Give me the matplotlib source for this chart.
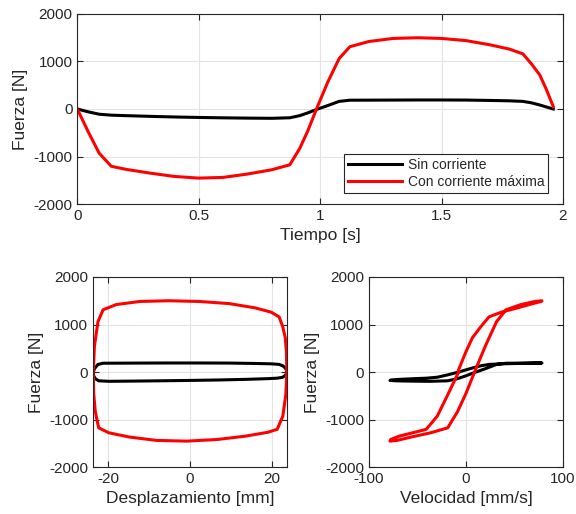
import matplotlib
matplotlib.use('Agg')
import matplotlib.pyplot as plt

plt.rcParams['font.family'] = ['Liberation Sans', 'DejaVu Sans']
plt.rcParams['axes.unicode_minus'] = False

# tiempo de muestreo [s]
tiempo = [0, 0.045, 0.09, 0.14, 0.2, 0.3, 0.4, 0.5, 0.6, 0.7, 0.8, 0.875, 0.916,
          0.95, 0.985, 1.03, 1.078, 1.122, 1.2, 1.3, 1.4, 1.5, 1.6, 1.7, 1.78,
          1.835, 1.87, 1.904, 1.93, 1.96]

# desplazamiento [mm]
desplazamiento = [23.70, 23.45, 22.72, 21.35, 18.99, 13.57, 6.74, -0.76, -8.18,
                  -14.78, -19.86, -22.37, -23.20, -23.59, -23.70, -23.40, -22.54,
                  -21.29, -18.05, -12.28, -5.27, 2.28, 9.59, 15.94, 19.86, 21.82,
                  22.72, 23.32, 23.59, 23.70]

# velocidad [mm/s]
velocidad = [-7.58, -18.82, -29.64, -40.95, -53.11, -68.82, -77.55, -78.35, -71.18,
             -56.77, -36.54, -18.82, -8.60, -0.01, 8.83, 20.03, 31.50, 41.36, 56.75,
             71.16, 78.35, 77.55, 68.84, 53.12, 36.55, 23.70, 15.11, 6.60, 0.01, -7.57]

# fuerza [N]
fuerza_sin = [0, -60, -110, -130, -140, -155, -168, -178, -186, -192, -196, -185,
              -140, -80, -10, 70, 160, 185, 186, 188, 190, 190, 188, 180, 172, 160,
              130, 85, 45, 0]
fuerza_max = [0, -480, -930, -1206, -1270, -1350, -1420, -1455, -1440, -1370, -1280,
              -1175, -830, -450, 0, 550, 1060, 1310, 1420, 1485, 1500, 1485, 1440,
              1350, 1260, 1160, 950, 720, 430, 50]

txt = '#262626'
lw = 2.2


def estilo(ax):
    ax.grid(True, color='#e3e3e3', linewidth=0.8)
    ax.set_axisbelow(True)
    ax.tick_params(direction='in', top=True, right=True, length=4,
                   labelsize=11, colors=txt, width=0.8)
    for s in ax.spines.values():
        s.set_color(txt)
        s.set_linewidth(0.8)
    ax.set_ylim(-2000, 2000)
    ax.set_yticks([-2000, -1000, 0, 1000, 2000])
    ax.set_ylabel('Fuerza [N]', fontsize=12.5, color=txt)


fig = plt.figure(figsize=(5.76, 5.14), dpi=100)

ax1 = fig.add_axes([0.1342, 0.6031, 0.8432, 0.3697])
ax1.plot(tiempo, fuerza_sin, color='k', linewidth=lw, label='Sin corriente')
ax1.plot(tiempo, fuerza_max, color='#ff0000', linewidth=lw, label='Con corriente máxima')
ax1.set_xlim(0, 2)
ax1.set_xticks([0, 0.5, 1, 1.5, 2])
ax1.set_xticklabels(['0', '0.5', '1', '1.5', '2'])
ax1.set_xlabel('Tiempo [s]', fontsize=12.5, color=txt)
estilo(ax1)
leg = ax1.legend(loc='lower right', bbox_to_anchor=(0.97, 0.056), borderaxespad=0,
                 fontsize=10, handlelength=3.9, handletextpad=0.4, fancybox=False,
                 framealpha=1, edgecolor=txt, borderpad=0.3, labelspacing=0.25)
leg.get_frame().set_linewidth(0.8)
for t in leg.get_texts():
    t.set_color(txt)

ax2 = fig.add_axes([0.1615, 0.0914, 0.3368, 0.3697])
ax2.plot(desplazamiento, fuerza_sin, color='k', linewidth=lw)
ax2.plot(desplazamiento, fuerza_max, color='#ff0000', linewidth=lw)
ax2.set_xlim(-23.75, 23.75)
ax2.set_xticks([-20, 0, 20])
ax2.set_xlabel('Desplazamiento [mm]', fontsize=12.5, color=txt)
estilo(ax2)

ax3 = fig.add_axes([0.6406, 0.0914, 0.3368, 0.3697])
ax3.plot(velocidad, fuerza_sin, color='k', linewidth=lw)
ax3.plot(velocidad, fuerza_max, color='#ff0000', linewidth=lw)
ax3.set_xlim(-100, 100)
ax3.set_xticks([-100, 0, 100])
ax3.set_xlabel('Velocidad [mm/s]', fontsize=12.5, color=txt)
estilo(ax3)

fig.savefig('out.png', dpi=100)
